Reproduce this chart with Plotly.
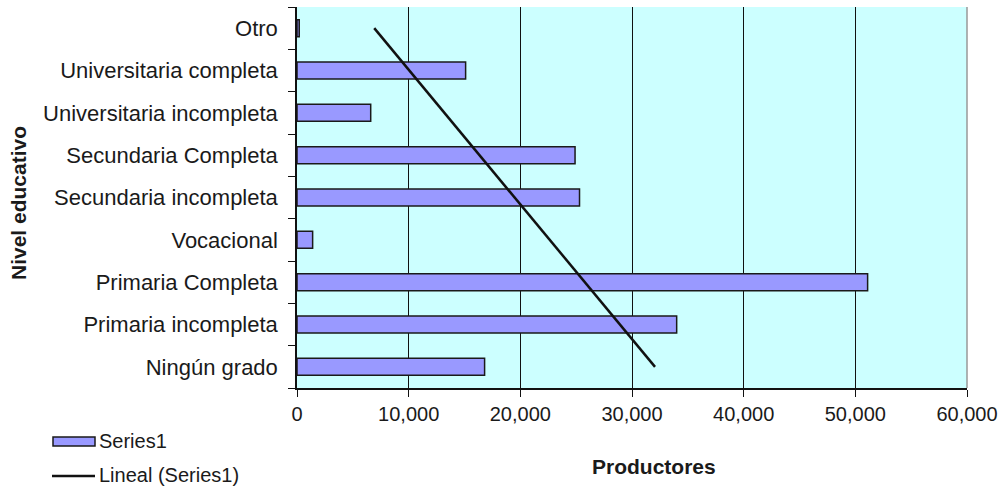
import numpy as np
import plotly.graph_objects as go

categories = ["Ningún grado", "Primaria incompleta", "Primaria Completa", "Vocacional",
              "Secundaria incompleta", "Secundaria Completa", "Universitaria incompleta",
              "Universitaria completa", "Otro"]
productores = [16800, 34000, 51100, 1400, 25300, 24900, 6600, 15100, 200]
x_ticks = [0, 10000, 20000, 30000, 40000, 50000, 60000]
series_name = "Series1"
trend_name = "Lineal (Series1)"

idx = np.arange(1, len(categories) + 1)
slope, intercept = np.polyfit(idx, productores, 1)
trend = slope * idx + intercept

BAR_FILL = "#9999FF"
INK = "#1a1a1a"

fig = go.Figure()
fig.add_trace(go.Bar(
    x=productores, y=categories, orientation="h", name=series_name,
    marker=dict(color=BAR_FILL, line=dict(color=INK, width=1.5)),
    width=0.4, showlegend=False,
))
fig.add_trace(go.Scatter(
    x=trend, y=categories, mode="lines", name=trend_name,
    line=dict(color="#111111", width=2.5), showlegend=False,
))

# plot area in pixels: x 297..967, y 7..388
L, R, T, B = 297, 967, 7, 388
W, H = R - L, B - T
def px(x):
    return (x - L) / W
def py(y):
    return (B - y) / H

font = "Liberation Sans, Arial, sans-serif"
fig.update_layout(
    width=1001, height=488,
    margin=dict(l=L, r=1001 - R, t=T, b=488 - B, autoexpand=False),
    paper_bgcolor="white", plot_bgcolor="#CCFFFF",
    font=dict(family=font, size=20, color=INK),
    showlegend=False,
    xaxis=dict(range=[0, 60000], tickvals=x_ticks, tickformat=",",
               showgrid=True, gridcolor="#111111", gridwidth=1,
               ticks="outside", ticklen=7, tickcolor="#111111",
               showline=True, linecolor="#111111", linewidth=1.5,
               tickfont=dict(size=20), zeroline=False, automargin=False),
    yaxis=dict(categoryorder="array", categoryarray=categories,
               range=[-0.5, len(categories) - 0.5],
               ticks="outside", tickson="boundaries", ticklen=7, tickcolor="#111111",
               showline=True, linecolor="#111111", linewidth=1.5,
               showgrid=False, tickfont=dict(size=22), ticklabelstandoff=13,
               automargin=False),
    annotations=[
        dict(text="<b>Productores</b>", x=px(654), y=py(466),
             xref="paper", yref="paper", showarrow=False, font=dict(size=21),
             xanchor="center", yanchor="middle"),
        dict(text="<b>Nivel educativo</b>", x=px(18), y=py(203),
             xref="paper", yref="paper", showarrow=False, textangle=-90,
             font=dict(size=21), xanchor="center", yanchor="middle"),
        dict(text=series_name, x=px(97), y=py(441), xref="paper", yref="paper",
             showarrow=False, xanchor="left", yanchor="middle", font=dict(size=20)),
        dict(text=trend_name, x=px(97), y=py(475), xref="paper", yref="paper",
             showarrow=False, xanchor="left", yanchor="middle", font=dict(size=20)),
    ],
    shapes=[
        dict(type="line", xref="paper", yref="paper", x0=1, x1=1, y0=0, y1=1,
             line=dict(color="#999999", width=1.5)),
        dict(type="rect", xref="paper", yref="paper", x0=px(53), x1=px(95),
             y0=py(446), y1=py(437), fillcolor=BAR_FILL, line=dict(color=INK, width=1.5)),
        dict(type="line", xref="paper", yref="paper", x0=px(52), x1=px(95),
             y0=py(476), y1=py(476), line=dict(color="#111111", width=2.5)),
    ],
)
fig.write_html("out.html")
